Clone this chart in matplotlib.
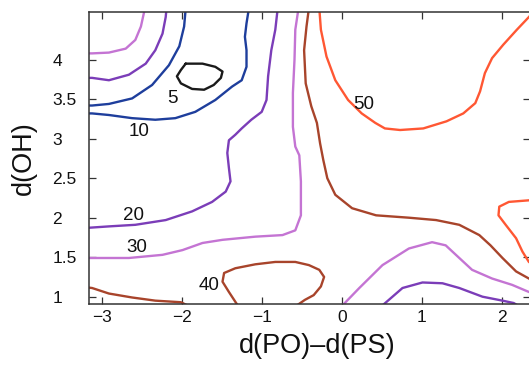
import matplotlib
matplotlib.use("Agg")
import matplotlib.pyplot as plt

# ---- data: contour lines (x = d(PO)-d(PS), y = d(OH)) ----
levels = [5, 10, 20, 30, 40, 50]

c5_x = [-1.95, -1.74, -1.58, -1.49, -1.51, -1.60, -1.72, -1.87, -2.01, -2.06, -2.01, -1.95]
c5_y = [3.95, 3.95, 3.91, 3.85, 3.77, 3.68, 3.62, 3.63, 3.70, 3.79, 3.87, 3.95]

c10a_x = [-3.20, -3.12, -2.91, -2.62, -2.37, -2.16, -2.03, -1.97, -1.95]
c10a_y = [3.42, 3.42, 3.44, 3.51, 3.68, 3.93, 4.17, 4.42, 4.65]
c10b_x = [-3.20, -3.12, -2.91, -2.62, -2.33, -2.08, -1.83, -1.58, -1.37, -1.25, -1.19, -1.19, -1.21, -1.19, -1.16]
c10b_y = [3.32, 3.32, 3.30, 3.26, 3.24, 3.26, 3.34, 3.49, 3.66, 3.74, 3.91, 4.12, 4.29, 4.46, 4.65]

c20a_x = [-3.20, -3.12, -2.91, -2.66, -2.45, -2.33, -2.24, -2.20, -2.19]
c20a_y = [3.77, 3.77, 3.74, 3.81, 3.95, 4.12, 4.33, 4.54, 4.65]
c20b_x = [-0.80, -0.83, -0.88, -0.92, -0.94, -1.00, -1.13, -1.25, -1.33, -1.41, -1.43, -1.41,
          -1.39, -1.45, -1.62, -1.87, -2.20, -2.58, -2.91, -3.20]
c20b_y = [4.65, 4.38, 4.12, 3.79, 3.49, 3.34, 3.24, 3.13, 3.05, 2.98, 2.82, 2.63,
          2.46, 2.33, 2.20, 2.08, 1.97, 1.91, 1.89, 1.87]
c20c_x = [0.51, 0.76, 1.01, 1.26, 1.47, 1.76, 2.01, 2.15, 2.20]
c20c_y = [0.89, 1.11, 1.18, 1.17, 1.11, 1.00, 0.95, 0.92, 0.89]

c30a_x = [-3.20, -3.12, -2.91, -2.70, -2.58, -2.51, -2.46]
c30a_y = [4.08, 4.08, 4.09, 4.14, 4.25, 4.42, 4.65]
c30b_x = [-0.54, -0.58, -0.59, -0.61, -0.61, -0.58, -0.53, -0.51, -0.51, -0.58, -0.74, -1.08,
          -1.49, -1.74, -1.99, -2.24, -2.66, -3.20]
c30b_y = [4.65, 4.38, 4.00, 3.58, 3.15, 2.90, 2.79, 2.46, 2.03, 1.84, 1.78, 1.76,
          1.72, 1.68, 1.59, 1.53, 1.49, 1.49]
c30c_x = [0.01, 0.22, 0.51, 0.84, 1.13, 1.30, 1.47, 1.63, 1.88, 2.13, 2.34, 2.40]
c30c_y = [0.89, 1.11, 1.40, 1.61, 1.69, 1.65, 1.49, 1.34, 1.23, 1.15, 1.06, 1.04]

c40a_x = [-3.20, -3.12, -2.91, -2.62, -2.33, -2.01, -1.93]
c40a_y = [1.12, 1.11, 1.04, 0.99, 0.95, 0.93, 0.89]
c40b_x = [-0.41, -0.44, -0.47, -0.45, -0.38, -0.31, -0.27, -0.23, -0.18, -0.08, 0.13, 0.43,
          0.84, 1.18, 1.47, 1.72, 1.86, 2.01, 2.18, 2.34, 2.40]
c40b_y = [4.65, 4.42, 4.12, 3.70, 3.41, 3.20, 2.94, 2.73, 2.50, 2.29, 2.12, 2.03,
          2.00, 1.97, 1.91, 1.78, 1.65, 1.49, 1.32, 1.23, 1.20]
c40c_x = [-1.30, -1.41, -1.49, -1.47, -1.33, -1.08, -0.83, -0.58, -0.41, -0.28, -0.22, -0.26,
          -0.35, -0.46, -0.56]
c40c_y = [0.89, 1.06, 1.19, 1.30, 1.36, 1.41, 1.44, 1.44, 1.40, 1.34, 1.25, 1.13,
          1.02, 0.96, 0.89]

c50a_x = [-0.28, -0.26, -0.19, -0.08, 0.08, 0.25, 0.42, 0.54, 0.73, 1.02, 1.31, 1.52,
          1.67, 1.73, 1.79, 1.88, 2.02, 2.19, 2.34, 2.40]
c50a_y = [4.65, 4.38, 4.04, 3.74, 3.49, 3.32, 3.20, 3.13, 3.11, 3.13, 3.22, 3.32,
          3.45, 3.60, 3.83, 4.02, 4.19, 4.38, 4.54, 4.61]
c50b_x = [2.40, 2.34, 2.09, 1.97, 1.96, 2.05, 2.18, 2.26, 2.34, 2.40]
c50b_y = [2.23, 2.22, 2.20, 2.14, 2.03, 1.91, 1.74, 1.57, 1.44, 1.40]

label_text = ["5", "10", "20", "30", "40", "50"]
label_x = [-2.12, -2.53, -2.60, -2.56, -1.66, 0.27]
label_y = [3.51, 3.09, 2.03, 1.62, 1.14, 3.43]

x_ticks = [-3, -2, -1, 0, 1, 2]
y_ticks = [1, 1.5, 2, 2.5, 3, 3.5, 4]
y_tick_labels = ["1", "1.5", "2", "2.5", "3", "3.5", "4"]

# ---- styling ----
plt.rcParams["font.family"] = ["Liberation Sans", "DejaVu Sans"]
level_colors = {5: "#1a1a1a", 10: "#1e3e9c", 20: "#7b3db8", 30: "#c474d3",
                40: "#a8442b", 50: "#ff5733"}

lines = [
    (5, c5_x, c5_y),
    (10, c10a_x, c10a_y), (10, c10b_x, c10b_y),
    (20, c20a_x, c20a_y), (20, c20b_x, c20b_y), (20, c20c_x, c20c_y),
    (30, c30a_x, c30a_y), (30, c30b_x, c30b_y), (30, c30c_x, c30c_y),
    (40, c40a_x, c40a_y), (40, c40b_x, c40b_y), (40, c40c_x, c40c_y),
    (50, c50a_x, c50a_y), (50, c50b_x, c50b_y),
]

W, H = 529, 366
fig = plt.figure(figsize=(W / 100, H / 100), dpi=100)
ax = fig.add_axes([89 / W, (H - 304) / H, (530 - 89) / W, (304 - 12) / H])

for lvl, xs, ys in lines:
    ax.plot(xs, ys, color=level_colors[lvl], lw=1.7, solid_capstyle="round",
            solid_joinstyle="round")

for t, x, y in zip(label_text, label_x, label_y):
    ax.text(x, y, t, fontsize=13.5, ha="center", va="center", color="#111111")

ax.set_xlim(-3.159, 2.354)
ax.set_ylim(0.9076, 4.6038)

ax.set_xticks(x_ticks)
ax.set_xticklabels(["\u2212" + str(-v) if v < 0 else str(v) for v in x_ticks])
ax.set_yticks(y_ticks)
ax.set_yticklabels(y_tick_labels)

ax.tick_params(direction="in", length=5, width=0.9, colors="#333333",
               top=True, right=True, labelsize=12.5, labelcolor="#111111")
ax.tick_params(axis="x", pad=4)
ax.tick_params(axis="y", pad=26.5)
for lab in ax.get_yticklabels():
    lab.set_horizontalalignment("left")

for sp in ax.spines.values():
    sp.set_linewidth(1.1)
    sp.set_color("#333333")

ax.set_xlabel("d(PO)\u2013d(PS)", fontsize=19.5, color="#111111")
ax.set_ylabel("d(OH)", fontsize=19.5, color="#111111")
ax.xaxis.set_label_coords((317 - 89) / 441, -(333 - 304) / 292)
ax.yaxis.set_label_coords((37 - 89) / 441, 0.5)

fig.savefig("out.png", dpi=100)
